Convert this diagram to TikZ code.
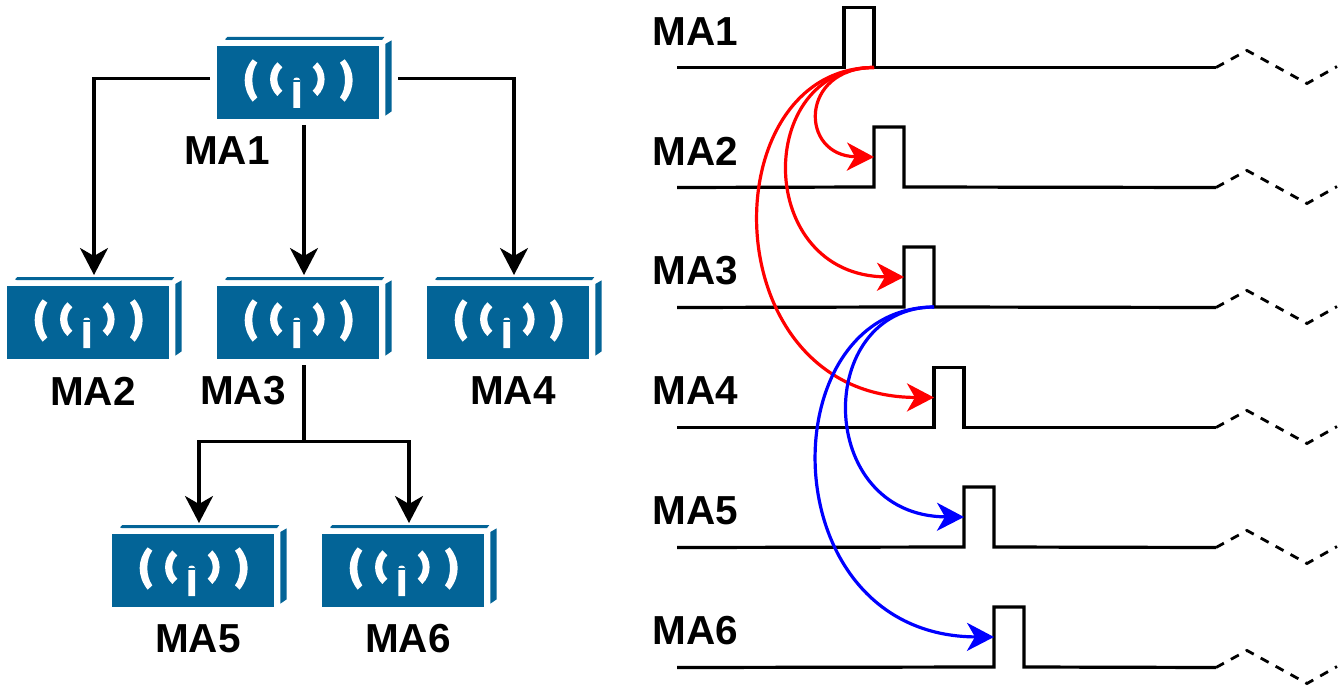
\documentclass[tikz,border=0pt]{standalone}
\usepackage{fontspec}
\setmainfont{Liberation Sans}
\usetikzlibrary{arrows.meta,calc}
\definecolor{devblue}{HTML}{036497}
\tikzset{
  x=1pt,y=-1pt,
  devnode/.style={minimum width=188pt,minimum height=90pt,inner sep=0pt,outer sep=0pt},
  lab/.style={font=\fontsize{40.5}{41}\selectfont\bfseries,inner sep=0pt},
  tiplab/.style={lab,anchor=west},
  link/.style={line width=3.2pt,-{Stealth[length=27pt,width=28pt,inset=8pt]}},
  plainlink/.style={line width=3.2pt},
  pulse/.style={minimum width=30pt,minimum height=60pt,inner sep=0pt,outer sep=0pt},
  trace/.style={line width=3.2pt,line join=miter},
  tail/.style={line width=2.8pt,dash pattern=on 9pt off 8pt},
  redcurve/.style={link,draw=red,color=red},
  bluecurve/.style={link,draw=blue,color=blue},
  pics/device/.style={code={
    \begin{scope}[x=0.33333pt,y=-0.33333pt,shift={(-312,-180)}]
      \fill[devblue] (52,78) rectangle (538,296);
      \fill[devblue] (75,58) -- (82,51) -- (553,51) -- (546,60) -- (80,60) -- cycle;
      \fill[devblue] (556,72) -- (575,61) -- (575,274) -- (556,287) -- cycle;
      \fill[white] (158,118) .. controls (126,155) and (126,205) .. (158,245)
        -- (172,232) .. controls (152,205) and (152,155) .. (172,128) -- cycle;
      \fill[white] (232,127) .. controls (203,155) and (203,200) .. (232,228)
        -- (247,212) .. controls (227,195) and (227,160) .. (247,142) -- cycle;
      \fill[white] (352,127) .. controls (381,155) and (381,200) .. (352,228)
        -- (338,212) .. controls (358,195) and (358,160) .. (338,142) -- cycle;
      \fill[white] (434,118) .. controls (466,155) and (466,205) .. (434,245)
        -- (420,232) .. controls (440,205) and (440,155) .. (420,128) -- cycle;
      \fill[white] (280,264) -- (280,180) .. controls (280,170) and (300,170) .. (300,180) -- (300,264) -- cycle;
      \fill[devblue] (279,181) rectangle (301,185);
    \end{scope}
  }}
}
\begin{document}
\begin{tikzpicture}
\useasboundingbox[fill=white] (0,0) rectangle (1341,687);
% devices
\node[devnode] (d1) at (304,80) {};
\node[devnode] (d2) at (94,320) {};
\node[devnode] (d3) at (304,320) {};
\node[devnode] (d4) at (514,320) {};
\node[devnode] (d5) at (199,568) {};
\node[devnode] (d6) at (409,568) {};
\foreach \d in {d1,d2,d3,d4,d5,d6} \pic at (\d.center) {device};
% device labels
\node[lab] (l1) at (227,151) {MA1};
\node[lab] (l2) at (93,391) {MA2};
\node[lab] (l3) at (243,391) {MA3};
\node[lab] (l4) at (513,391) {MA4};
\node[lab] (l5) at (198,639) {MA5};
\node[lab] (l6) at (408,639) {MA6};
% tree connectors
\draw[link] ([yshift=1.5pt]d1.west) -| (d2.north);
\draw[link] (d1.south) -- (d3.north);
\draw[link] ([yshift=1.5pt]d1.east) -| (d4.north);
\coordinate (j) at (304,441.5);
\draw[plainlink] (d3.south) -- (j);
\draw[link] (j) -| (d5.north);
\draw[link] (j) -| (d6.north);
% timing rows
\node[pulse] (p1) at (859,37.5) {};
\node[pulse] (p2) at (889,157) {};
\node[pulse] (p3) at (919,277) {};
\node[pulse] (p4) at (949,397.5) {};
\node[pulse] (p5) at (979,517) {};
\node[pulse] (p6) at (1009,637) {};
\node[tiplab] (t1) at (652.5,32) {MA1};
\node[tiplab] (t2) at (652.5,151) {MA2};
\node[tiplab] (t3) at (652.5,271) {MA3};
\node[tiplab] (t4) at (652.5,391) {MA4};
\node[tiplab] (t5) at (652.5,511) {MA5};
\node[tiplab] (t6) at (652.5,631) {MA6};
\foreach \p/\y in {p1/67.5,p2/187.5,p3/307.5,p4/427.5,p5/547.5,p6/667.5}{
  \coordinate (s\p) at (677,\y);
  \coordinate (e\p) at (1216,\y);
  \draw[trace] (s\p) -- (\p.south west) -- (\p.north west) -- (\p.north east) -- (\p.south east) -- (e\p);
  \draw[tail] (e\p) -- ++(31,-17) -- ++(60,33) -- ++(30,-17);
}
% curves
\draw[redcurve] (p1.south east) .. controls (799,67.5) and (799,156) .. (p2.west);
\draw[redcurve] (p1.south east) .. controls (754,67.5) and (754,276) .. (p3.west);
\draw[redcurve] (p1.south east) .. controls (711,67.5) and (711,397) .. (p4.west);
\draw[bluecurve] (p3.south east) .. controls (814,307.5) and (814,516) .. (p5.west);
\draw[bluecurve] (p3.south east) .. controls (769,307.5) and (769,636) .. (p6.west);
\end{tikzpicture}
\end{document}
